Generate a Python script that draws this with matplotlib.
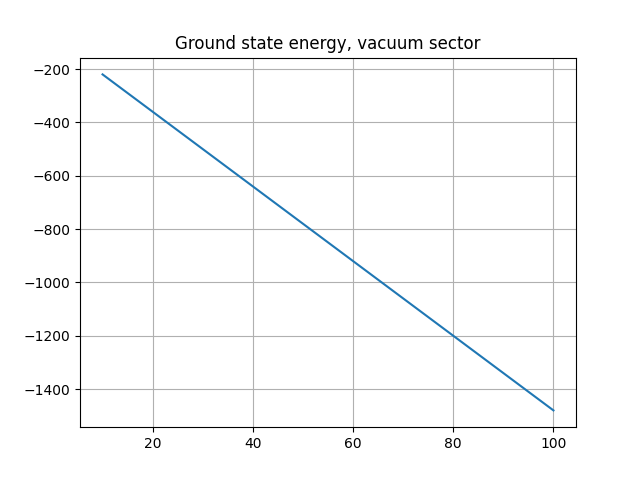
import numpy as np
import matplotlib
matplotlib.use('Agg')
import matplotlib.pyplot as plt

# system sizes and ground state energies
sizes = [10, 20, 30, 40, 50, 60, 70, 80, 90, 100]
energies = [-220, -360, -500, -640, -780, -920, -1060, -1200, -1340, -1480]

fig, ax = plt.subplots(figsize=(6.4, 4.8), dpi=100)
ax.plot(sizes, energies)                        # plots the energy line
ax.set_title('Ground state energy, vacuum sector')
ax.grid(True)
fig.savefig('out.png')
